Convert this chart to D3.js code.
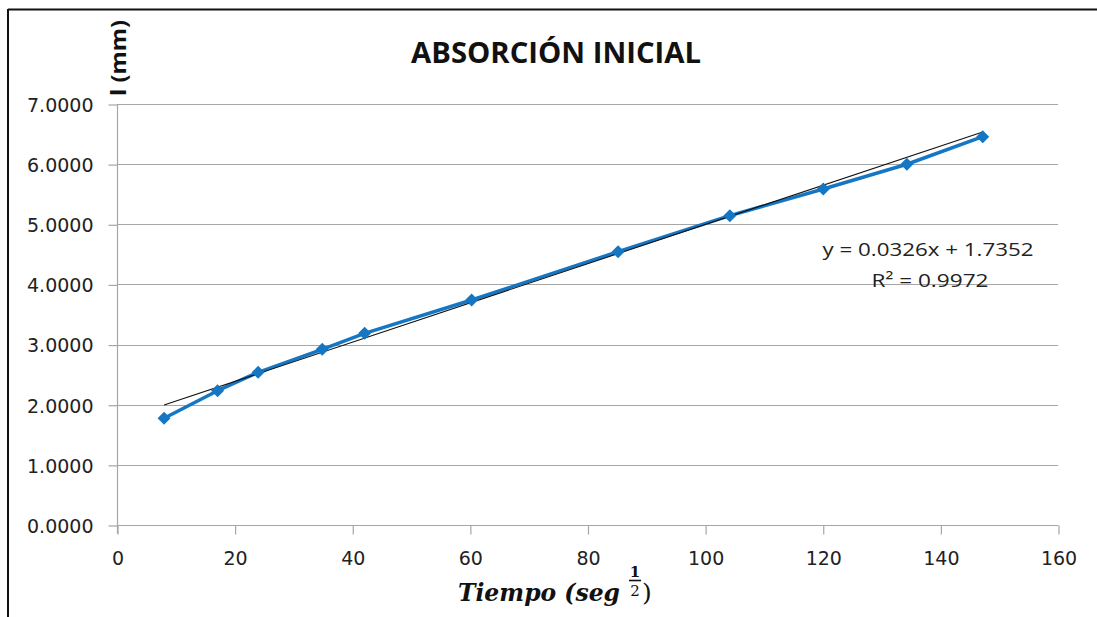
<!DOCTYPE html>
<html>
<head>
<meta charset="utf-8">
<script src="https://cdn.jsdelivr.net/npm/d3@7"></script>
<style>
  html, body { margin: 0; padding: 0; background: #fff; }
  svg { display: block; }
</style>
</head>
<body>
<svg id="chart" width="1097" height="617"></svg>
<script>
// Absorption measurements: square root of time vs. absorption (mm)
const tiempo = [8.0, 17.1, 24.0, 34.9, 42.1, 60.3, 85.2, 104.2, 120.1, 134.3, 147.2];
const absorcion = [1.774, 2.233, 2.539, 2.921, 3.187, 3.741, 4.544, 5.143, 5.587, 5.998, 6.457];
const xTicks = [0, 20, 40, 60, 80, 100, 120, 140, 160];
const yTicks = [0, 1, 2, 3, 4, 5, 6, 7];
const slope = 0.0326, intercept = 1.7352, r2 = 0.9972;

const svg = d3.select("#chart");
const W = 1097, H = 617;
const plot = { left: 117, right: 1058, top: 104, bottom: 525 };

const x = d3.scaleLinear().domain([0, 160]).range([plot.left, plot.right]);
const y = d3.scaleLinear().domain([0, 7]).range([plot.bottom, plot.top]);

// frame edges
svg.append("line").attr("x1", 8).attr("x2", W).attr("y1", 9.5).attr("y2", 9.5)
  .attr("stroke", "#111").attr("stroke-width", 2);
svg.append("line").attr("x1", 8).attr("x2", 8).attr("y1", 9).attr("y2", H)
  .attr("stroke", "#111").attr("stroke-width", 2);

// horizontal gridlines
svg.append("g").selectAll("line").data(yTicks.filter(d => d > 0)).join("line")
  .attr("x1", plot.left).attr("x2", plot.right)
  .attr("y1", d => Math.round(y(d)) + 0.5).attr("y2", d => Math.round(y(d)) + 0.5)
  .attr("stroke", "#a6a6a6").attr("stroke-width", 1.2);

// y axis
const yAxis = d3.axisLeft(y).tickValues(yTicks).tickSize(9).tickPadding(15)
  .tickFormat(d => d3.format(".4f")(d));
const gy = svg.append("g").attr("transform", `translate(${plot.left + 0.5},0.5)`).call(yAxis);
gy.select(".domain").attr("stroke", "#a6a6a6").attr("stroke-width", 1.2)
  .attr("d", `M0,${plot.top}V${plot.bottom + 8}`);
gy.selectAll(".tick line").attr("stroke", "#a6a6a6").attr("stroke-width", 1.2);
gy.selectAll(".tick text").attr("font-family", "DejaVu Sans, sans-serif")
  .attr("font-size", 19).attr("fill", "#222").attr("dy", "0.36em");

// x axis
const xAxis = d3.axisBottom(x).tickValues(xTicks).tickSize(9).tickPadding(17)
  .tickFormat(d3.format("d"));
const gx = svg.append("g").attr("transform", `translate(0.5,${plot.bottom + 0.5})`).call(xAxis);
gx.select(".domain").attr("stroke", "#a6a6a6").attr("stroke-width", 1.2)
  .attr("d", `M${plot.left},0H${plot.right}`);
gx.selectAll(".tick line").attr("stroke", "#a6a6a6").attr("stroke-width", 1.2);
gx.selectAll(".tick text").attr("font-family", "DejaVu Sans, sans-serif")
  .attr("font-size", 19).attr("fill", "#222");

// data series
const pts = tiempo.map((t, i) => [t, absorcion[i]]);
svg.append("path").datum(pts)
  .attr("fill", "none").attr("stroke", "#1577c4").attr("stroke-width", 3.5)
  .attr("stroke-linejoin", "round")
  .attr("d", d3.line().x(d => x(d[0])).y(d => y(d[1])));

// linear trendline
const tMin = d3.min(tiempo), tMax = d3.max(tiempo);
svg.append("line")
  .attr("x1", x(tMin)).attr("y1", y(slope * tMin + intercept))
  .attr("x2", x(tMax)).attr("y2", y(slope * tMax + intercept))
  .attr("stroke", "#111").attr("stroke-width", 1.1);

// diamond markers
svg.append("g").selectAll("path").data(pts).join("path")
  .attr("transform", d => `translate(${x(d[0])},${y(d[1])})`)
  .attr("d", "M0,-6.5L6.5,0L0,6.5L-6.5,0Z")
  .attr("fill", "#1577c4");

// title
svg.append("text").attr("x", 556).attr("y", 63).attr("text-anchor", "middle")
  .attr("font-family", "Open Sans, sans-serif").attr("font-weight", "bold")
  .attr("font-size", 28).attr("fill", "#111")
  .attr("textLength", 290).attr("lengthAdjust", "spacingAndGlyphs")
  .text("ABSORCIÓN INICIAL");

// y axis title
svg.append("text").attr("transform", "translate(126,58) rotate(-90)")
  .attr("text-anchor", "middle")
  .attr("font-family", "Open Sans, sans-serif").attr("font-weight", "bold")
  .attr("font-size", 22).attr("fill", "#111")
  .attr("textLength", 76).attr("lengthAdjust", "spacingAndGlyphs")
  .text("l (mm)");

// x axis title with fractional exponent
const xt = svg.append("g").attr("font-family", "DejaVu Serif, serif")
  .attr("font-weight", "bold").attr("font-style", "italic").attr("fill", "#111");
xt.append("text").attr("x", 458).attr("y", 601).attr("font-size", 25)
  .attr("textLength", 162).attr("lengthAdjust", "spacingAndGlyphs")
  .text("Tiempo (seg");
xt.append("text").attr("x", 635).attr("y", 577).attr("text-anchor", "middle")
  .attr("font-size", 15).attr("font-style", "normal").text("1");
xt.append("line").attr("x1", 629).attr("x2", 641).attr("y1", 580.5).attr("y2", 580.5)
  .attr("stroke", "#111").attr("stroke-width", 1.6);
xt.append("text").attr("x", 635).attr("y", 596).attr("text-anchor", "middle")
  .attr("font-size", 15).attr("font-style", "normal").attr("font-weight", "normal").text("2");
xt.append("text").attr("x", 642).attr("y", 601).attr("font-size", 25)
  .attr("font-style", "normal").attr("font-weight", "normal").text(")");

// regression equation
const eq = svg.append("g").attr("font-family", "Open Sans, sans-serif")
  .attr("font-size", 19).attr("fill", "#222").attr("text-anchor", "middle");
eq.append("text").attr("x", 928).attr("y", 256)
  .attr("textLength", 211).attr("lengthAdjust", "spacingAndGlyphs")
  .text(`y = ${slope.toFixed(4)}x + ${intercept.toFixed(4)}`);
eq.append("text").attr("x", 930).attr("y", 287)
  .attr("textLength", 117).attr("lengthAdjust", "spacingAndGlyphs")
  .text(`R² = ${r2.toFixed(4)}`);
</script>
</body>
</html>
